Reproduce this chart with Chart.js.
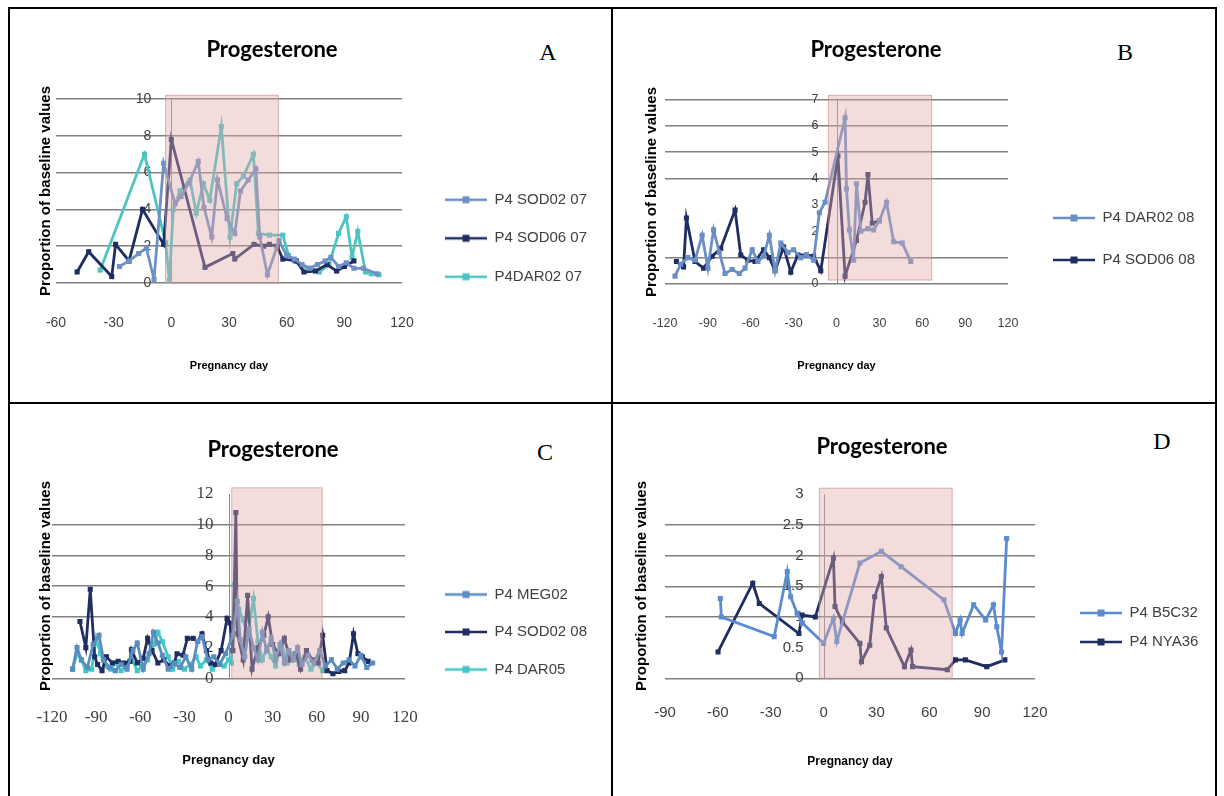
<!DOCTYPE html>
<html>
<head>
<meta charset="utf-8">
<script src="https://cdn.jsdelivr.net/npm/chart.js@4.4.1/dist/chart.umd.min.js"></script>
<style>
  body { margin: 0; background: #fff; width: 1224px; height: 796px; overflow: hidden; position: relative; }
  canvas { position: absolute; }
  .rule { position: absolute; background: #000; }
  .letter { position: absolute; font-family: "Liberation Serif", "Times New Roman", serif; font-size: 24px; color: #000; transform: translate(-50%, -50%); }
  .ytitle { position: absolute; font-family: "Liberation Sans", Arial, sans-serif; font-weight: bold; font-size: 15px; color: #000; white-space: nowrap; transform: translate(-50%, -50%) rotate(-90deg); }
</style>
</head>
<body>
<div class="rule" style="left:8px;top:7px;width:1209px;height:2px"></div>
<div class="rule" style="left:8px;top:7px;width:2px;height:800px"></div>
<div class="rule" style="left:1215px;top:7px;width:2px;height:800px"></div>
<div class="rule" style="left:8px;top:402px;width:1209px;height:2px"></div>
<div class="rule" style="left:611px;top:7px;width:2px;height:800px"></div>

<div class="letter" style="left:548px;top:52px">A</div>
<div class="letter" style="left:1125px;top:52px">B</div>
<div class="letter" style="left:545px;top:452px">C</div>
<div class="letter" style="left:1162px;top:441px">D</div>

<canvas id="chartA"></canvas>
<canvas id="chartB"></canvas>
<canvas id="chartC"></canvas>
<canvas id="chartD"></canvas>

<script>
// ---------- data ----------
// A
const daysA_sod02 = [-27, -22, -17, -13, -9, -4, 2, 5, 9, 14, 17, 21, 24, 29, 33, 36, 40, 44, 46, 50, 56, 60, 64, 68, 72, 76, 80, 83, 87, 91, 95, 100, 107];
const valsA_sod02 = [0.9, 1.2, 1.6, 1.9, 0.2, 6.5, 4.3, 4.7, 5.4, 6.6, 4.1, 2.5, 5.6, 3.5, 2.7, 5.0, 5.6, 6.2, 2.5, 0.45, 2.3, 1.5, 1.3, 1.0, 0.8, 1.0, 1.2, 1.4, 0.9, 1.1, 0.8, 0.8, 0.5];
const daysA_sod06 = [-49, -43, -31, -29, -22, -15, -4, 0, 17.5, 32, 33, 43, 48, 51, 55, 58, 65, 69, 75, 81, 86, 90, 95];
const valsA_sod06 = [0.6, 1.7, 0.35, 2.1, 1.2, 4.0, 2.1, 7.8, 0.85, 1.6, 1.3, 2.1, 2.0, 2.1, 2.0, 1.3, 1.2, 0.6, 0.65, 1.0, 0.65, 0.9, 1.2];
const daysA_dar02 = [-37, -14, -3, -1, 1, 4.5, 9.7, 13, 16.7, 20, 26, 30.5, 34, 37.5, 42.7, 45.3, 51, 58, 61, 64, 68, 72, 77, 82, 87, 91, 94, 97, 101, 104, 108];
const valsA_dar02 = [0.7, 7.0, 2.2, 0.15, 4.0, 5.0, 5.6, 3.8, 5.4, 4.5, 8.5, 2.5, 5.4, 5.8, 7.0, 2.7, 2.6, 2.6, 1.5, 1.2, 0.9, 0.8, 0.6, 1.0, 2.7, 3.6, 1.4, 2.8, 0.6, 0.5, 0.45];
const pinkA = [-3, 55.7, 0, 10.2];

// B
const daysB_dar02 = [-113, -109, -104, -99, -94, -90, -86, -82, -78, -73, -68, -64, -59, -55, -51, -47, -43, -39, -34, -30, -25, -21, -16, -12, -8, 6, 7, 9, 12, 14, 17, 22, 26, 30, 35, 40, 46, 52];
const valsB_dar02 = [0.3, 0.75, 1.0, 0.9, 1.85, 0.6, 2.05, 1.2, 0.4, 0.55, 0.4, 0.6, 1.3, 0.85, 1.05, 1.85, 0.5, 1.55, 1.2, 1.3, 1.0, 1.1, 0.9, 2.7, 3.1, 6.3, 3.6, 2.05, 0.9, 3.8, 2.0, 2.1, 2.05, 2.4, 3.1, 1.6, 1.55, 0.85];
const daysB_sod06 = [-112, -107, -105, -99, -93, -87, -81, -71, -67, -62, -57, -51, -47, -43, -37, -32, -27, -21, -16, -11, 1, 6, 14, 20, 22, 25, 30];
const valsB_sod06 = [0.85, 0.65, 2.5, 0.85, 0.6, 1.05, 1.35, 2.8, 1.1, 0.9, 0.85, 1.3, 1.0, 0.5, 1.4, 0.45, 1.1, 1.1, 1.05, 0.5, 4.85, 0.3, 1.65, 3.1, 4.15, 2.3, 2.4];
const pinkB = [-5.7, 66.6, 0.15, 7.15];

// C
const daysC_meg02 = [-106, -103, -100, -96, -92, -88, -85, -81, -77, -73, -69, -65, -62, -58, -54, -51, -48, -45, -41, -37, -33, -29, -25, -21, -18, -14, -10, -6, -2, 3, 6, 8, 11, 14, 17, 20, 23, 26, 29, 32, 35, 38, 41, 44, 47, 50, 54, 58, 62, 66, 70, 74, 78, 82, 86, 90, 94, 98];
const valsC_meg02 = [0.6, 2.0, 1.2, 0.7, 2.2, 2.8, 1.2, 0.7, 0.5, 0.9, 0.6, 1.8, 2.3, 0.6, 1.6, 3.0, 2.3, 1.5, 0.6, 1.0, 0.7, 1.4, 0.6, 2.4, 2.7, 1.2, 1.4, 0.9, 1.6, 2.8, 5.0, 2.5, 1.4, 3.2, 2.0, 1.2, 3.0, 1.8, 2.6, 1.2, 2.2, 1.0, 1.8, 1.2, 2.0, 0.9, 1.5, 1.0, 1.8, 0.8, 1.2, 0.6, 1.0, 1.2, 0.8, 1.5, 0.7, 1.0];
const daysC_sod02 = [-101, -97, -94, -91, -89, -86, -83, -79, -75, -71, -67, -66, -62, -58, -55, -52, -48, -44, -40, -37, -35, -31, -28, -24, -21, -18, -15, -12, -9, -5, -1, 1, 3, 5, 6, 10, 13, 16, 20, 24, 27, 30, 34, 38, 42, 46, 49, 53, 57, 61, 64, 67, 71, 75, 79, 82, 85, 88, 91, 95];
const valsC_sod02 = [3.7, 2.0, 5.8, 1.4, 0.9, 0.5, 1.4, 1.0, 1.1, 1.0, 1.1, 1.85, 1.0, 1.3, 2.6, 1.8, 1.0, 1.2, 0.8, 1.0, 1.6, 1.5, 2.6, 2.6, 2.4, 2.9, 1.8, 1.0, 0.9, 1.8, 3.9, 3.6, 1.8, 10.8, 2.9, 1.2, 5.4, 0.6, 2.0, 2.8, 4.0, 2.2, 1.6, 2.6, 1.2, 1.6, 0.6, 1.8, 1.2, 1.0, 2.8, 0.5, 0.3, 0.45, 0.5, 1.0, 2.9, 1.6, 1.4, 1.1];
const daysC_dar05 = [-106, -103, -100, -97, -93, -90, -87, -84, -80, -77, -73, -69, -66, -62, -59, -55, -51, -48, -45, -41, -38, -34, -30, -26, -22, -19, -15, -11, -7, -3, 0, 2, 4, 7, 10, 13, 17, 20, 23, 26, 29, 32, 36, 40, 44, 48, 52, 56, 60, 64];
const valsC_dar05 = [0.6, 1.6, 1.2, 0.5, 0.6, 2.6, 1.6, 0.8, 0.6, 1.0, 0.5, 0.8, 1.3, 0.5, 0.8, 1.2, 2.2, 3.0, 2.4, 1.4, 0.6, 1.1, 0.6, 0.9, 1.4, 0.8, 1.2, 0.6, 1.0, 0.8, 1.2, 1.0, 6.1, 4.5, 3.8, 2.8, 5.2, 2.4, 1.2, 2.0, 1.4, 0.8, 2.3, 1.0, 1.6, 0.9, 1.4, 0.6, 1.0, 0.5];
const pinkC = [2.2, 63.7, 0, 12.4];

// D
const daysD_b5c32 = [-58.6, -58, -28, -20.6, -18.7, -15, -12, 0, 5.6, 7.5, 20.6, 32.8, 44, 68.3, 74.9, 77.5, 78.6, 85.2, 92, 96.4, 98.3, 101, 103.9];
const valsD_b5c32 = [1.30, 1.0, 0.68, 1.74, 1.33, 1.06, 0.9, 0.57, 0.98, 0.6, 1.88, 2.07, 1.82, 1.28, 0.73, 0.95, 0.73, 1.2, 0.95, 1.2, 0.84, 0.43, 2.28];
const daysD_nya36 = [-59.9, -40.2, -36.5, -14, -12.2, -4.7, 5.6, 6.5, 10.7, 20.6, 21.5, 26.2, 29, 32.8, 35.6, 45.9, 49.6, 50.5, 70.2, 74.9, 80.5, 92.6, 102.9];
const valsD_nya36 = [0.43, 1.55, 1.22, 0.73, 1.03, 1.0, 1.96, 1.17, 0.92, 0.57, 0.27, 0.54, 1.33, 1.66, 0.82, 0.19, 0.46, 0.19, 0.14, 0.30, 0.30, 0.19, 0.30];
const pinkD = [-2.4, 73, 0, 3.1];

const NAVY = '#1f2d63';

// ---------- drawing ----------
function legendIcon(color) {
  const c = document.createElement('canvas');
  c.width = 42; c.height = 10;
  const g = c.getContext('2d');
  g.strokeStyle = color; g.lineWidth = 2.5;
  g.beginPath(); g.moveTo(0, 5); g.lineTo(42, 5); g.stroke();
  g.fillStyle = color; g.fillRect(17.5, 1.5, 7, 7);
  return c;
}

function yTitle(x, y, size) {
  const d = document.createElement('div');
  d.className = 'ytitle';
  d.style.left = x + 'px'; d.style.top = y + 'px'; d.style.fontSize = size + 'px';
  d.textContent = 'Proportion of baseline values';
  document.body.appendChild(d);
}

function panel(id, lay, series, pink) {
  const [aL, aR, aT, aB] = lay.area;
  // canvas spans symmetric around the title centre, right edge at lay.right
  const W = Math.round(2 * (lay.right - lay.titleX));
  const L0 = lay.right - W, T0 = lay.top;
  const tLH = 22 * 1.2;
  const tPadTop = lay.titleY - T0 - tLH / 2;
  const tPadBot = aT - T0 - tPadTop - tLH;
  const bottom = 2 * lay.legC - T0;
  const H = Math.ceil(bottom - T0);
  const padB = H - (bottom - T0);
  const lpad = lay.legGap - lay.legFont;
  const legLeft = lay.legX - lpad;
  const legW = lay.right - legLeft;
  const spacer = legLeft - aR;
  const leftW = aL - L0;
  const xAxisH = bottom - aB;
  const xtLH = lay.xTitleSize * 1.2;
  const gapDays = lay.yGap * (lay.xMax - lay.xMin) / (aR - aL);

  const cv = document.getElementById(id);
  cv.width = W; cv.height = H;
  cv.style.left = L0 + 'px'; cv.style.top = T0 + 'px';

  yTitle(lay.yTitleX, (aT + aB) / 2, lay.yTitleSize);

  const tickFont = {family: lay.tickFamily, size: lay.tickFont};

  new Chart(cv, {
    type: 'line',
    data: {
      datasets: series.map(s => ({
        label: s.label,
        data: s.days.map((d, i) => ({x: d, y: s.vals[i]})),
        borderColor: s.color,
        backgroundColor: s.color,
        borderWidth: 2.8,
        pointStyle: 'rect',
        pointRadius: 3.6,
        pointBorderWidth: 0,
        tension: 0
      }))
    },
    options: {
      responsive: false,
      animation: false,
      events: [],
      layout: {padding: {left: 0, top: 0, right: 0, bottom: padB}},
      scales: {
        x: {
          type: 'linear', min: lay.xMin, max: lay.xMax,
          ticks: {stepSize: 30, font: tickFont, color: '#404040', padding: lay.xTickY - aB - 1.1 * lay.tickFont, maxRotation: 0, autoSkip: false},
          grid: {display: false},
          border: {display: false},
          title: {display: true, text: 'Pregnancy day', color: '#000',
                  font: {family: 'Liberation Sans', size: lay.xTitleSize, weight: 'bold'},
                  padding: {top: 0, bottom: bottom - lay.xTitleY - xtLH / 2}},
          afterFit: s => { s.height = xAxisH; }
        },
        y: {
          type: 'linear', position: {x: -gapDays}, min: 0, max: lay.yMax,
          ticks: {stepSize: lay.yStep, font: tickFont, color: '#404040', callback: v => String(v)},
          grid: {
            color: c => lay.hidden.includes(c.tick.value) ? 'rgba(0,0,0,0)' : '#808080',
            lineWidth: 1.5, drawTicks: false
          },
          border: {display: false}
        },
        yL: {
          position: 'left', display: true,
          grid: {display: false}, border: {display: false}, ticks: {display: false},
          afterFit: s => { s.width = leftW; }
        },
        yR: {
          position: 'right', display: true,
          grid: {display: false}, border: {display: false}, ticks: {display: false},
          afterFit: s => { s.width = spacer; }
        }
      },
      plugins: {
        tooltip: {enabled: false},
        title: {display: true, text: 'Progesterone', color: '#000',
                font: {family: 'Lato', size: 22, weight: 'bold'},
                padding: {top: tPadTop, bottom: tPadBot}},
        legend: {
          position: 'right', align: 'center',
          labels: {
            usePointStyle: true, pointStyleWidth: 42, padding: lpad, color: '#404040',
            font: {family: 'Liberation Sans', size: lay.legFont},
            generateLabels: chart => chart.data.datasets.map((ds, i) => ({
              text: ds.label, fillStyle: ds.borderColor, strokeStyle: ds.borderColor,
              lineWidth: 0, pointStyle: legendIcon(ds.borderColor), hidden: false,
              datasetIndex: i, fontColor: '#404040'
            }))
          }
        }
      }
    },
    plugins: [
      {
        id: 'legendWidth',
        beforeInit(chart) {
          const lg = chart.legend, fit = lg.fit;
          lg.fit = function () { fit.call(this); this.width = legW; };
        }
      },
      {
        id: 'zeroAxis',
        beforeDatasetsDraw(chart) {
          const {ctx, scales: {x, y}} = chart;
          const x0 = Math.round(x.getPixelForValue(0)) + 0.5;
          ctx.save();
          ctx.strokeStyle = '#8a8a8a'; ctx.lineWidth = 1;
          ctx.beginPath(); ctx.moveTo(x0, y.top); ctx.lineTo(x0, y.bottom); ctx.stroke();
          ctx.restore();
        }
      },
      {
        id: 'pinkBox',
        afterDatasetsDraw(chart) {
          const {ctx, scales: {x, y}} = chart;
          const x1 = x.getPixelForValue(pink[0]), x2 = x.getPixelForValue(pink[1]);
          const y1 = y.getPixelForValue(pink[3]), y2 = y.getPixelForValue(pink[2]);
          ctx.save();
          ctx.fillStyle = 'rgba(222,168,168,0.4)';
          ctx.fillRect(x1, y1, x2 - x1, y2 - y1);
          ctx.strokeStyle = 'rgba(196,130,130,0.6)';
          ctx.lineWidth = 1;
          ctx.strokeRect(x1, y1, x2 - x1, y2 - y1);
          ctx.restore();
        }
      }
    ]
  });
}

panel('chartA', {
  right: 605, top: 20, area: [56, 402, 99, 283],
  xMin: -60, xMax: 120, yMax: 10, yStep: 2, hidden: [],
  titleX: 272, titleY: 50, yTitleX: 44, yTitleSize: 15, xTickY: 322, xTitleY: 366, xTitleSize: 11,
  legX: 445, legC: 238.3, legGap: 38.5, legFont: 15, tickFamily: 'Liberation Sans', tickFont: 14, yGap: 20
}, [
  {label: 'P4 SOD02 07', days: daysA_sod02, vals: valsA_sod02, color: '#6e90c6'},
  {label: 'P4 SOD06 07', days: daysA_sod06, vals: valsA_sod06, color: NAVY},
  {label: 'P4DAR02 07', days: daysA_dar02, vals: valsA_dar02, color: '#4ec4c2'}
], pinkA);

panel('chartB', {
  right: 1212, top: 20, area: [665, 1008, 99.3, 284],
  xMin: -120, xMax: 120, yMax: 7, yStep: 1, hidden: [2, 3],
  titleX: 876, titleY: 50, yTitleX: 650, yTitleSize: 15, xTickY: 322, xTitleY: 366, xTitleSize: 11,
  legX: 1053, legC: 239, legGap: 42, legFont: 15, tickFamily: 'Liberation Sans', tickFont: 12.5, yGap: 18
}, [
  {label: 'P4 DAR02 08', days: daysB_dar02, vals: valsB_dar02, color: '#6a8fc6'},
  {label: 'P4 SOD06 08', days: daysB_sod06, vals: valsB_sod06, color: NAVY}
], pinkB);

panel('chartC', {
  right: 605, top: 410, area: [52, 405, 494, 678.3],
  xMin: -120, xMax: 120, yMax: 12, yStep: 2, hidden: [2, 12],
  titleX: 273, titleY: 450, yTitleX: 44, yTitleSize: 15, xTickY: 718, xTitleY: 760, xTitleSize: 13,
  legX: 445, legC: 632, legGap: 37.5, legFont: 15, tickFamily: 'Liberation Serif', tickFont: 17, yGap: 15
}, [
  {label: 'P4 MEG02', days: daysC_meg02, vals: valsC_meg02, color: '#5a8cc0'},
  {label: 'P4 SOD02 08', days: daysC_sod02, vals: valsC_sod02, color: NAVY},
  {label: 'P4 DAR05', days: daysC_dar05, vals: valsC_dar05, color: '#42c6c6'}
], pinkC);

panel('chartD', {
  right: 1212, top: 410, area: [665, 1035, 494.3, 678.3],
  xMin: -90, xMax: 120, yMax: 3, yStep: 0.5, hidden: [0.5, 3],
  titleX: 882, titleY: 447, yTitleX: 640, yTitleSize: 15, xTickY: 712, xTitleY: 762, xTitleSize: 12,
  legX: 1080, legC: 627.5, legGap: 29, legFont: 15, tickFamily: 'Liberation Sans', tickFont: 15, yGap: 20
}, [
  {label: 'P4 B5C32', days: daysD_b5c32, vals: valsD_b5c32, color: '#5b8bd0'},
  {label: 'P4 NYA36', days: daysD_nya36, vals: valsD_nya36, color: NAVY}
], pinkD);
</script>
</body>
</html>
